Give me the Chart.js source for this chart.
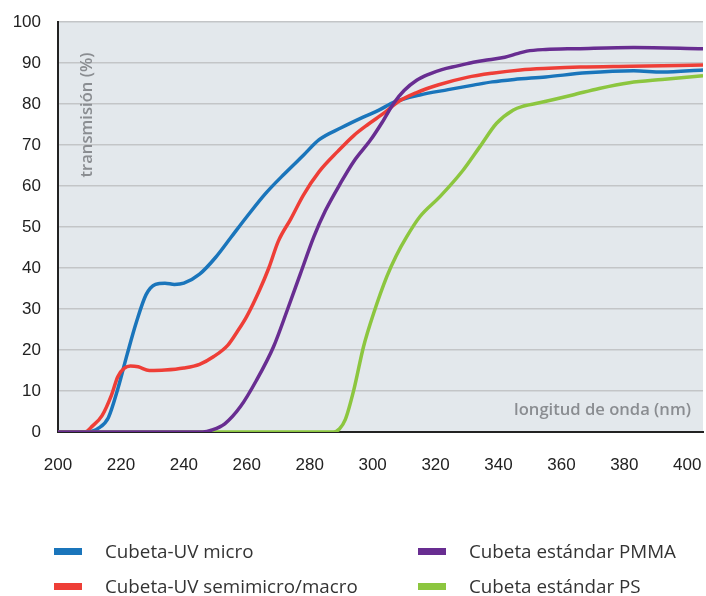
<!DOCTYPE html>
<html>
<head>
<meta charset="utf-8">
<script src="https://cdn.jsdelivr.net/npm/chart.js@4.4.1/dist/chart.umd.min.js"></script>
<style>
  body { margin: 0; background: #fff; }
  #wrap { position: relative; width: 706px; height: 596px; }
  .leg { position: absolute; font: 18.8px "Open Sans", sans-serif; color: #333; line-height: 22px; white-space: nowrap; }
  .leg i { position: absolute; left: 0; top: 8px; width: 28px; height: 7px; }
  .leg span { position: absolute; left: 51px; top: 0; }
</style>
</head>
<body>
<div id="wrap">
  <canvas id="chart" width="706" height="596"></canvas>
</div>
<script>
const xTicks = [200, 220, 240, 260, 280, 300, 320, 340, 360, 380, 400]
const yTicks = [0, 10, 20, 30, 40, 50, 60, 70, 80, 90, 100]

const microX = [200, 209, 213, 216, 219, 222, 225, 228, 231, 234, 237, 240, 245, 250, 255, 260, 266, 272, 278, 283, 290, 297, 302, 307, 315, 324, 332, 338, 345, 355, 368, 383, 392, 405]
const microY = [0, 0, 1, 3.5, 10.5, 19, 27, 33.5, 36, 36.3, 36, 36.3, 38.5, 42.5, 47.5, 52.5, 58.2, 63, 67.5, 71.3, 74.2, 76.8, 78.5, 80.5, 82.2, 83.5, 84.6, 85.4, 86, 86.6, 87.6, 88.1, 87.8, 88.3]

const macroX = [200, 208.5, 211, 214, 217, 219, 221, 223, 225.5, 229, 234, 240, 245, 249.5, 254, 257, 260, 264, 267, 270, 274, 278, 283, 289, 294, 298.5, 304, 308, 314, 321, 330, 338, 347, 356, 366, 382, 405]
const macroY = [0, 0, 1.5, 4, 9, 13.5, 15.5, 16.1, 15.9, 15, 15.1, 15.6, 16.5, 18.4, 21.2, 24.5, 28.2, 34.5, 40, 46.5, 52, 57.8, 63.5, 68.5, 72.3, 75, 78, 80.5, 82.8, 84.7, 86.5, 87.5, 88.3, 88.7, 89, 89.2, 89.5]

const pmmaX = [200, 246, 249, 253, 258, 263, 268.5, 273, 277, 281.3, 285, 289.8, 294, 299.3, 303, 306.7, 310, 314, 318, 322, 327, 332, 337, 342, 346, 349, 355, 365, 383, 405]
const pmmaY = [0, 0, 0.5, 2, 6.2, 12.5, 20.8, 30, 38.5, 47.6, 54, 60.7, 66, 71.2, 75.5, 80.2, 83.3, 85.8, 87.3, 88.4, 89.3, 90.2, 90.8, 91.4, 92.3, 92.9, 93.3, 93.5, 93.8, 93.5]

const psX = [200, 287.5, 289.5, 291.3, 294, 297.1, 300.3, 304.5, 307.5, 310.8, 315, 321.4, 328.8, 334.1, 339.4, 344.6, 348, 353, 363.6, 372, 381.6, 392, 405]
const psY = [0, 0, 0.8, 3, 10.2, 20.8, 28.9, 37.9, 43, 47.6, 52.5, 57.4, 63.9, 69.6, 75.3, 78.5, 79.5, 80.3, 82.2, 83.8, 85.2, 86, 86.9]

const seriesNames = ["Cubeta-UV micro", "Cubeta-UV semimicro/macro", "Cubeta estándar PMMA", "Cubeta estándar PS"]
const colors = ["#1a75bb", "#ee3e37", "#682d91", "#8cc63f"]

const pts = (xs, ys) => xs.map((x, i) => ({ x, y: ys[i] }))

const line = (idx, xs, ys) => ({
  label: seriesNames[idx],
  data: pts(xs, ys),
  borderColor: colors[idx],
  borderWidth: 3.5,
  pointRadius: 0,
  cubicInterpolationMode: "monotone",
  fill: false,
})

const plotBg = {
  id: "plotBg",
  beforeDraw(chart) {
    const { ctx, chartArea: a } = chart
    ctx.save()
    ctx.fillStyle = "#e3e8ec"
    ctx.fillRect(a.left, a.top, a.right - a.left, a.bottom - a.top)
    ctx.restore()
  },
}

const axisTitles = {
  id: "axisTitles",
  afterDraw(chart) {
    const { ctx } = chart
    ctx.save()
    ctx.fillStyle = "#8a8d91"
    ctx.font = "600 16.6px 'Open Sans', sans-serif"
    ctx.textBaseline = "middle"
    ctx.textAlign = "right"
    ctx.fillText("longitud de onda (nm)", 691, 410)
    ctx.translate(87, 115)
    ctx.rotate(-Math.PI / 2)
    ctx.textAlign = "center"
    ctx.fillText("transmisión (%)", 0, 0)
    ctx.restore()
  },
}

new Chart(document.getElementById("chart"), {
  type: "line",
  data: {
    datasets: [
      line(2, pmmaX, pmmaY),
      line(3, psX, psY),
      line(1, macroX, macroY),
      line(0, microX, microY),
    ],
  },
  options: {
    responsive: false,
    animation: false,
    layout: { padding: { top: 22, right: 3, bottom: 114, left: 0 } },
    plugins: { legend: { display: false }, tooltip: { enabled: false } },
    scales: {
      x: {
        type: "linear",
        min: 200,
        max: 405,
        afterBuildTicks: s => { s.ticks = xTicks.map(v => ({ value: v })) },
        afterFit: s => { s.height = 50; s.paddingLeft = 0; s.paddingRight = 0 },
        grid: { display: false },
        border: { display: true, color: "#222", width: 2 },
        ticks: { color: "#222", padding: 15, maxRotation: 0, font: { family: "'Liberation Sans', Arial", size: 17 } },
      },
      y: {
        min: 0,
        max: 100,
        afterBuildTicks: s => { s.ticks = yTicks.map(v => ({ value: v })) },
        afterFit: s => { s.width = 58; s.paddingTop = 0; s.paddingBottom = 0 },
        grid: { color: "#c3c5c7", lineWidth: 1.5, drawTicks: false },
        border: { display: true, color: "#222", width: 2 },
        ticks: { color: "#222", padding: 17, font: { family: "'Liberation Sans', Arial", size: 17 } },
      },
    },
  },
  plugins: [plotBg, axisTitles],
})

// legend in two columns under the plot
const legendPos = [[54, 540], [54, 575], [418, 540], [418, 575]]
const wrap = document.getElementById("wrap")
seriesNames.forEach((name, i) => {
  const d = document.createElement("div")
  d.className = "leg"
  d.style.left = legendPos[i][0] + "px"
  d.style.top = legendPos[i][1] + "px"
  d.innerHTML = `<i style="background:${colors[i]}"></i><span>${name}</span>`
  wrap.appendChild(d)
})
</script>
</body>
</html>
